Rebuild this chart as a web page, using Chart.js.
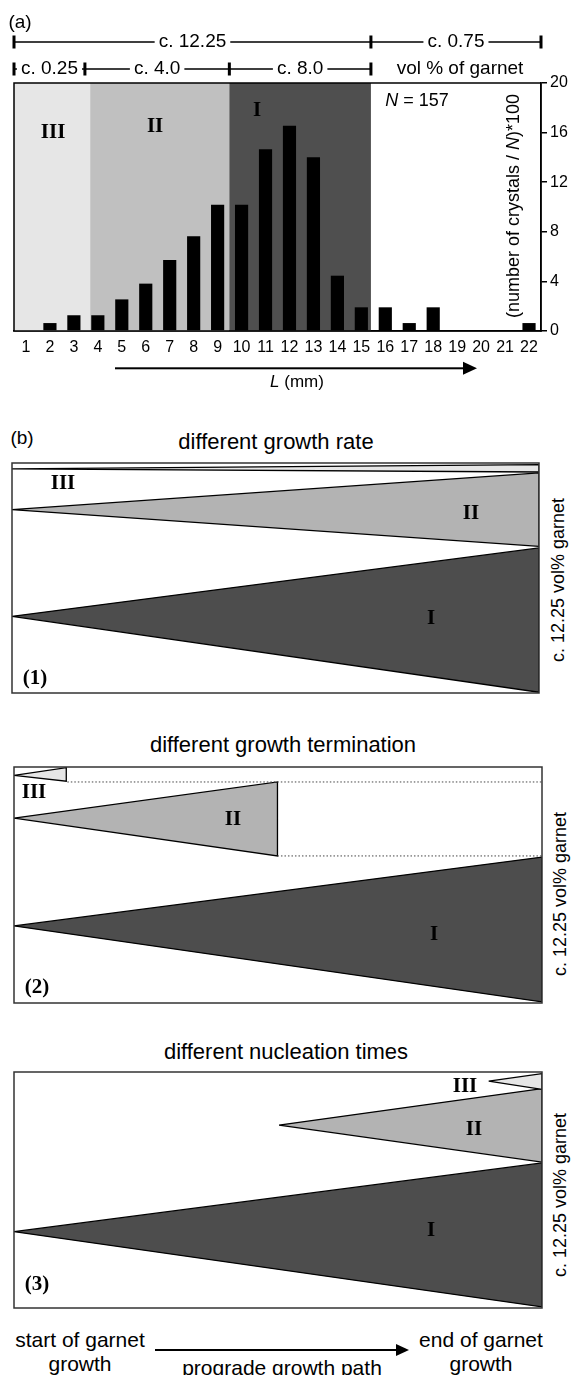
<!DOCTYPE html>
<html>
<head>
<meta charset="utf-8">
<script src="https://cdn.jsdelivr.net/npm/chart.js@4.4.0/dist/chart.umd.min.js"></script>
<style>
  body { margin: 0; width: 572px; height: 1375px; position: relative; background: #fff; overflow: hidden;
         font-family: "Liberation Sans", Arial, sans-serif; color: #000; }
  canvas { position: absolute; }
  .t { position: absolute; white-space: nowrap; transform: translate(-50%, -50%); line-height: 1; }
  .rot { transform: translate(-50%, -50%) rotate(-90deg); }
  .rn { font-family: "Liberation Serif", "Times New Roman", serif; font-weight: bold; font-size: 21px; }
  .arrowLine { position: absolute; height: 2px; background: #000; }
  .arrowHead { position: absolute; width: 0; height: 0; border-top: 6px solid transparent;
               border-bottom: 6px solid transparent; border-left: 13px solid #000; }
</style>
</head>
<body>
<canvas id="histChart" width="572" height="400" style="left:0;top:0"></canvas>
<canvas id="rateChart" width="533" height="236" style="left:9px;top:460px"></canvas>
<canvas id="termChart" width="534" height="242" style="left:11px;top:764px"></canvas>
<canvas id="nuclChart" width="534" height="242" style="left:11px;top:1069px"></canvas>

<!-- textos de la parte (b) -->
<div class="t" style="left:22px;top:437px;font-size:19px">(b)</div>
<div class="t" style="left:276px;top:442px;font-size:22px">different growth rate</div>
<div class="t" style="left:283px;top:745px;font-size:22px">different growth termination</div>
<div class="t" style="left:286px;top:1052px;font-size:22px">different nucleation times</div>

<div class="t rot" style="left:558px;top:580px;font-size:18px">c. 12.25 vol% garnet</div>
<div class="t rot" style="left:560px;top:894px;font-size:18px">c. 12.25 vol% garnet</div>
<div class="t rot" style="left:560px;top:1195px;font-size:18px">c. 12.25 vol% garnet</div>

<div class="t rn" style="left:63px;top:482px">III</div>
<div class="t rn" style="left:471px;top:512px">II</div>
<div class="t rn" style="left:431px;top:617px">I</div>
<div class="t rn" style="left:35px;top:677px">(1)</div>

<div class="t rn" style="left:34px;top:791px">III</div>
<div class="t rn" style="left:233px;top:818px">II</div>
<div class="t rn" style="left:434px;top:933px">I</div>
<div class="t rn" style="left:37px;top:986px">(2)</div>

<div class="t rn" style="left:465px;top:1085px">III</div>
<div class="t rn" style="left:474px;top:1128px">II</div>
<div class="t rn" style="left:431px;top:1229px">I</div>
<div class="t rn" style="left:37px;top:1283px">(3)</div>

<div class="t" style="left:80px;top:1339px;font-size:21px">start of garnet</div>
<div class="t" style="left:80px;top:1363px;font-size:21px">growth</div>
<div class="t" style="left:481px;top:1339px;font-size:21px">end of garnet</div>
<div class="t" style="left:481px;top:1363px;font-size:21px">growth</div>
<div class="t" style="left:282px;top:1367px;font-size:21px">prograde growth path</div>
<div class="arrowLine" style="left:155px;top:1349px;width:242px"></div>
<div class="arrowHead" style="left:396px;top:1344px"></div>

<script>
// Datos del histograma (a): L (mm) vs (número de cristales / N)*100
const sizeLabels = ['1', '2', '3', '4', '5', '6', '7', '8', '9', '10', '11',
                    '12', '13', '14', '15', '16', '17', '18', '19', '20', '21', '22'];
const crystalPct = [0, 0.64, 1.27, 1.27, 2.55, 3.82, 5.73, 7.64, 10.19, 10.19, 14.65,
                    16.56, 14.01, 4.46, 1.91, 1.91, 0.64, 1.91, 0, 0, 0, 0.64];
const yMax = 20;
const yStep = 4;

// Zonas III, II, I (límites en índice de categoría)
const zoneNames = ['III', 'II', 'I'];
const zoneEdges = [-0.5, 2.68, 8.49, 14.4];
const zoneColors = ['#e6e6e6', '#c0c0c0', '#4f4f4f'];
const zoneLabelX = [1.13, 5.39, 9.65];
const zoneLabelY = [16.0, 16.45, 17.8];

// Escalas de vol % encima del histograma
const topRowEdges = [-0.5, 14.4, 21.5];
const topRowText = ['c. 12.25', 'c. 0.75'];
const subRowEdges = [-0.5, 2.46, 8.49, 14.4];
const subRowText = ['c. 0.25', 'c. 4.0', 'c. 8.0'];

// Triángulos de la parte (b): puntos [progreso, vol %]
const rateIII = [[0, 12.42], [1, 12.66], [1, 12.25]];
const rateII = [[0, 10.16], [1, 12.2], [1, 8.13]];
const rateI = [[0, 4.25], [1, 8.04], [1, 0.04]];

const termIII = [[0, 12.62], [0.099, 13.04], [0.099, 12.29]];
const termII = [[0, 10.25], [0.499, 12.25], [0.499, 8.15]];
const termI = [[0, 4.27], [1, 8.09], [1, 0.06]];
const termDotTop = [[0.101, 12.25], [1, 12.25]];
const termDotLow = [[0.499, 8.15], [1, 8.15]];

const nuclIII = [[0.899, 12.57], [1, 12.99], [1, 12.12]];
const nuclII = [[0.502, 10.14], [1, 12.16], [1, 8.09]];
const nuclI = [[0, 4.23], [1, 8.04], [1, 0.06]];

const panelYMax = [12.75, 13.08, 13.08];

const sans = '"Liberation Sans", Arial, sans-serif';
const serif = '"Liberation Serif", "Times New Roman", serif';

// Texto centrado, con partes en cursiva
function drawRich(ctx, parts, x, y, size) {
    let total = 0;
    parts.forEach(p => {
        ctx.font = (p[1] ? 'italic ' : '') + size + 'px ' + sans;
        total += ctx.measureText(p[0]).width;
    });
    let cx = x - total / 2;
    ctx.textAlign = 'left';
    ctx.textBaseline = 'middle';
    parts.forEach(p => {
        ctx.font = (p[1] ? 'italic ' : '') + size + 'px ' + sans;
        ctx.fillText(p[0], cx, y);
        cx += ctx.measureText(p[0]).width;
    });
    return total;
}

function drawSpanRow(ctx, xScale, edges, texts, y, tickH) {
    ctx.fillStyle = '#000';
    ctx.strokeStyle = '#000';
    ctx.lineWidth = 1.5;
    for (let i = 0; i < texts.length; i++) {
        const x0 = xScale.getPixelForValue(edges[i]);
        const x1 = xScale.getPixelForValue(edges[i + 1]);
        const mid = (x0 + x1) / 2;
        const w = drawRich(ctx, [[texts[i], false]], mid, y, 19);
        if (mid - w / 2 - 4 - x0 > 2) {
            ctx.beginPath();
            ctx.moveTo(x0, y);
            ctx.lineTo(mid - w / 2 - 4, y);
            ctx.moveTo(mid + w / 2 + 4, y);
            ctx.lineTo(x1, y);
            ctx.stroke();
        }
    }
    edges.forEach(e => {
        const x = xScale.getPixelForValue(e);
        ctx.fillRect(x - 1.5, y - tickH / 2, 3, tickH);
    });
}

const histPlugin = {
    id: 'histPlugin',
    beforeDatasetsDraw(chart) {
        const { ctx, chartArea: a, scales: { x } } = chart;
        ctx.save();
        for (let i = 0; i < zoneNames.length; i++) {
            const x0 = x.getPixelForValue(zoneEdges[i]);
            const x1 = x.getPixelForValue(zoneEdges[i + 1]);
            ctx.fillStyle = zoneColors[i];
            ctx.fillRect(x0, a.top, x1 - x0, a.bottom - a.top);
        }
        ctx.restore();
    },
    afterDraw(chart) {
        const { ctx, chartArea: a, scales: { x, y } } = chart;
        ctx.save();
        // marco
        ctx.strokeStyle = '#000';
        ctx.lineWidth = 1.5;
        ctx.strokeRect(a.left, a.top, a.right - a.left, a.bottom - a.top);

        // etiquetas de zonas
        ctx.fillStyle = '#000';
        ctx.font = 'bold 21px ' + serif;
        ctx.textAlign = 'center';
        ctx.textBaseline = 'middle';
        for (let i = 0; i < zoneNames.length; i++) {
            ctx.fillText(zoneNames[i], x.getPixelForValue(zoneLabelX[i]), y.getPixelForValue(zoneLabelY[i]));
        }

        // escalas de vol %
        drawSpanRow(ctx, x, topRowEdges, topRowText, 42, 13);
        drawSpanRow(ctx, x, subRowEdges, subRowText, 69, 13);
        drawRich(ctx, [['vol % of garnet', false]], 460, 69, 19);

        // (a)
        drawRich(ctx, [['(a)', false]], 20, 23, 19);

        // N = 157
        drawRich(ctx, [['N', true], [' = 157', false]], 417, 101, 18);

        // título del eje y (rotado)
        ctx.save();
        ctx.translate(514, 206);
        ctx.rotate(-Math.PI / 2);
        drawRich(ctx, [['(number of crystals / ', false], ['N', true], [')*100', false]], 0, 0, 18);
        ctx.restore();

        // flecha y título del eje x
        ctx.fillStyle = '#000';
        ctx.fillRect(115, 367.3, 350, 2);
        ctx.beginPath();
        ctx.moveTo(463, 361.8);
        ctx.lineTo(477, 368.3);
        ctx.lineTo(463, 374.8);
        ctx.closePath();
        ctx.fill();
        drawRich(ctx, [['L', true], [' (mm)', false]], 297, 382, 17);
        ctx.restore();
    }
};

new Chart(document.getElementById('histChart'), {
    type: 'bar',
    data: {
        labels: sizeLabels,
        datasets: [{
            data: crystalPct,
            backgroundColor: '#000',
            borderWidth: 0,
            barPercentage: 0.55,
            categoryPercentage: 1
        }]
    },
    options: {
        responsive: false,
        animation: false,
        layout: { padding: { left: 14, top: 83, right: 0, bottom: 29 } },
        plugins: { legend: { display: false }, tooltip: { enabled: false } },
        scales: {
            x: {
                grid: { display: false, drawTicks: false },
                border: { display: true, color: '#000', width: 1.5 },
                ticks: { color: '#000', font: { family: sans, size: 16 }, padding: 7, autoSkip: false, maxRotation: 0 },
                afterFit: (scale) => { scale.height = 40; }
            },
            y: {
                position: 'right',
                min: 0,
                max: yMax,
                grid: { drawOnChartArea: false, drawTicks: true, tickLength: 6, color: '#000', lineWidth: 1.5 },
                border: { display: true, color: '#000', width: 1.5 },
                ticks: { stepSize: yStep, color: '#000', font: { family: sans, size: 16 }, padding: 3 },
                afterFit: (scale) => { scale.width = 31; }
            }
        }
    },
    plugins: [histPlugin]
});

const boxPlugin = {
    id: 'boxPlugin',
    afterDraw(chart) {
        const { ctx, chartArea: a } = chart;
        ctx.save();
        ctx.strokeStyle = '#333';
        ctx.lineWidth = 1.5;
        ctx.strokeRect(a.left, a.top, a.right - a.left, a.bottom - a.top);
        ctx.restore();
    }
};

function tri(points, fillColor) {
    const pts = points.concat([points[0]]).map(p => ({ x: p[0], y: p[1] }));
    return {
        data: pts,
        showLine: true,
        fill: 'shape',
        backgroundColor: fillColor,
        borderColor: '#000',
        borderWidth: 1.3,
        pointRadius: 0,
        tension: 0
    };
}

function dotted(points) {
    return {
        data: points.map(p => ({ x: p[0], y: p[1] })),
        showLine: true,
        fill: false,
        borderColor: '#444',
        borderWidth: 1,
        borderDash: [1.5, 2],
        pointRadius: 0
    };
}

function panel(id, datasets, ymax) {
    new Chart(document.getElementById(id), {
        type: 'scatter',
        data: { datasets: datasets },
        options: {
            responsive: false,
            animation: false,
            layout: { padding: 3 },
            plugins: { legend: { display: false }, tooltip: { enabled: false } },
            scales: {
                x: { type: 'linear', min: 0, max: 1, display: false },
                y: { type: 'linear', min: 0, max: ymax, display: false }
            }
        },
        plugins: [boxPlugin]
    });
}

panel('rateChart', [tri(rateIII, '#e6e6e6'), tri(rateII, '#b3b3b3'), tri(rateI, '#4d4d4d')], panelYMax[0]);
panel('termChart', [dotted(termDotTop), dotted(termDotLow),
                    tri(termIII, '#e6e6e6'), tri(termII, '#b3b3b3'), tri(termI, '#4d4d4d')], panelYMax[1]);
panel('nuclChart', [tri(nuclIII, '#e6e6e6'), tri(nuclII, '#b3b3b3'), tri(nuclI, '#4d4d4d')], panelYMax[2]);
</script>
</body>
</html>
